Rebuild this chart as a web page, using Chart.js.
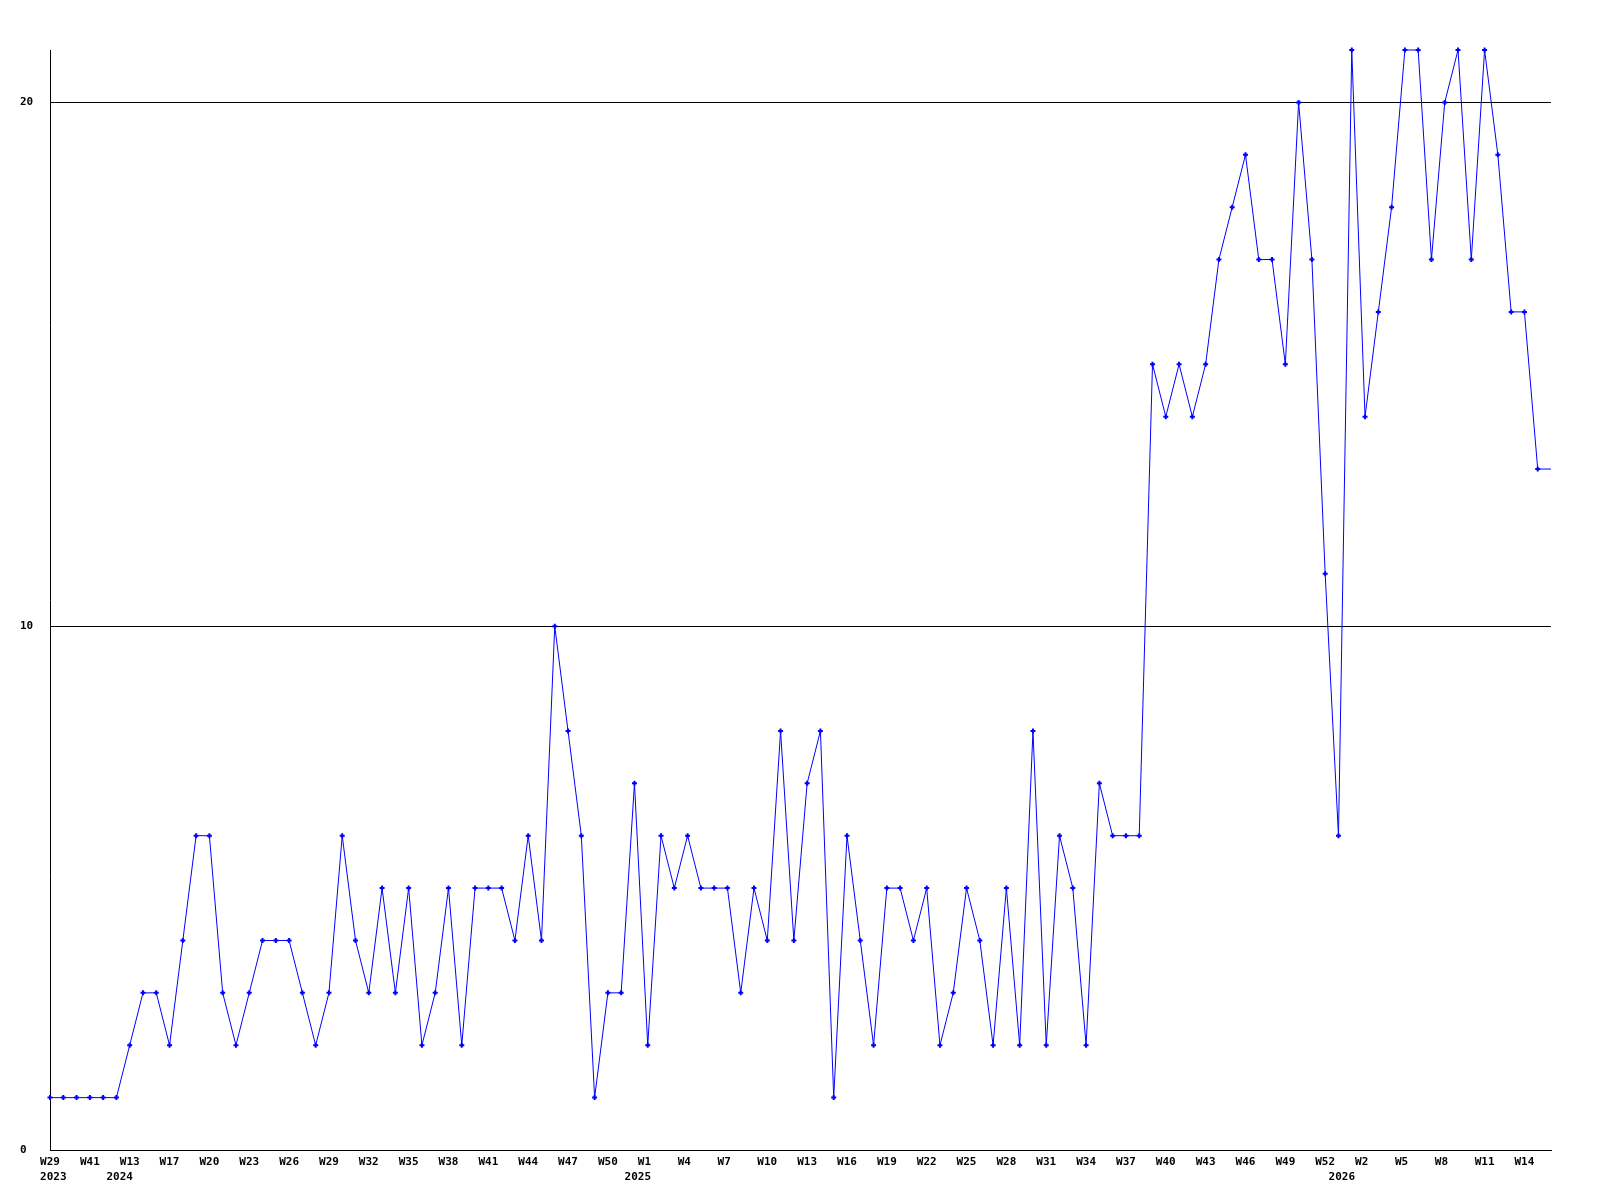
<!DOCTYPE html>
<html>
<head>
<meta charset="utf-8">
<script src="https://cdn.jsdelivr.net/npm/chart.js@4.4.1/dist/chart.umd.min.js"></script>
<style>
  html, body { margin: 0; padding: 0; background: #fff; }
  canvas { display: block; }
</style>
</head>
<body>
<canvas id="weeklyChart" width="1600" height="1200"></canvas>
<script>
// weekly counts, one entry per week that has data
const weeks = [
  "W29", "W33", "W37", "W41", "W47", "W52",
  "W13", "W14", "W15", "W17", "W18", "W19", "W20", "W21", "W22", "W23", "W24", "W25",
  "W26", "W27", "W28", "W29", "W30", "W31", "W32", "W33", "W34", "W35", "W36", "W37",
  "W38", "W39", "W40", "W41", "W42", "W43", "W44", "W45", "W46", "W47", "W48", "W49",
  "W50", "W51", "W52",
  "W1", "W2", "W3", "W4", "W5", "W6", "W7", "W8", "W9", "W10", "W11", "W12", "W13",
  "W14", "W15", "W16", "W17", "W18", "W19", "W20", "W21", "W22", "W23", "W24", "W25",
  "W26", "W27", "W28", "W29", "W30", "W31", "W32", "W33", "W34", "W35", "W36", "W37",
  "W38", "W39", "W40", "W41", "W42", "W43", "W44", "W45", "W46", "W47", "W48", "W49",
  "W50", "W51", "W52", "W53",
  "W1", "W2", "W3", "W4", "W5", "W6", "W7", "W8", "W9", "W10", "W11", "W12", "W13",
  "W14", "W15", "W16"
];

const counts = [
  1, 1, 1, 1, 1, 1,
  2, 3, 3, 2, 4, 6, 6, 3, 2, 3,
  4, 4, 4, 3, 2, 3, 6, 4, 3, 5,
  3, 5, 2, 3, 5, 2, 5, 5, 5, 4,
  6, 4, 10, 8, 6, 1, 3, 3, 7, 2,
  6, 5, 6, 5, 5, 5, 3, 5, 4, 8,
  4, 7, 8, 1, 6, 4, 2, 5, 5, 4,
  5, 2, 3, 5, 4, 2, 5, 2, 8, 2,
  6, 5, 2, 7, 6, 6, 6, 15, 14, 15,
  14, 15, 17, 18, 19, 17, 17, 15, 20, 17,
  11, 6, 21, 14, 16, 18, 21, 21, 17, 20,
  21, 17, 21, 19, 16, 16, 13, 13
];

// year captions under the week row
const years = ["2023", "2024", "2025", "2026"];
const yearAt = [0, 5, 44, 97];

const yTicks = [0, 10, 20];

const fontSpec = { family: "'DejaVu Sans Mono', 'Liberation Mono', monospace", size: 11, weight: "bold", lineHeight: 1.33 };

new Chart(document.getElementById("weeklyChart"), {
  type: "line",
  data: {
    labels: weeks,
    datasets: [{
      data: counts,
      borderColor: "#0000ff",
      backgroundColor: "#0000ff",
      borderWidth: 1,
      tension: 0,
      fill: false,
      pointStyle: "cross",
      pointRadius: (c) => (c.dataIndex === counts.length - 1 ? 0 : 2.5),
      pointBorderWidth: 2,
      pointBorderColor: "#0000ff",
      pointHoverRadius: 0,
      clip: false
    }]
  },
  options: {
    responsive: false,
    devicePixelRatio: 1,
    animation: false,
    events: [],
    layout: { padding: { left: 20, top: 50, right: 49, bottom: 0 } },
    plugins: { legend: { display: false }, tooltip: { enabled: false } },
    scales: {
      x: {
        type: "category",
        offset: false,
        grid: { display: false, drawTicks: false },
        border: { display: true, color: "#000", width: 1 },
        afterFit: (s) => { s.height = 50; },
        ticks: {
          autoSkip: false,
          maxRotation: 0,
          minRotation: 0,
          padding: 5,
          color: "#000",
          font: fontSpec,
          callback: function (val, i) {
            const wk = i % 3 === 0 ? weeks[i].padEnd(3, " ") : "";
            const y = yearAt.indexOf(i);
            if (y >= 0) return [wk, " " + years[y]];
            return wk;
          }
        }
      },
      y: {
        min: 0,
        max: 21,
        grid: { color: "#000", lineWidth: 1, drawTicks: false },
        border: { display: true, color: "#000", width: 1 },
        afterFit: (s) => { s.width = 30; },
        afterBuildTicks: (s) => { s.ticks = yTicks.map((v) => ({ value: v })); },
        ticks: {
          crossAlign: "far",
          padding: 0,
          color: "#000",
          font: fontSpec
        }
      }
    }
  }
});
</script>
</body>
</html>
